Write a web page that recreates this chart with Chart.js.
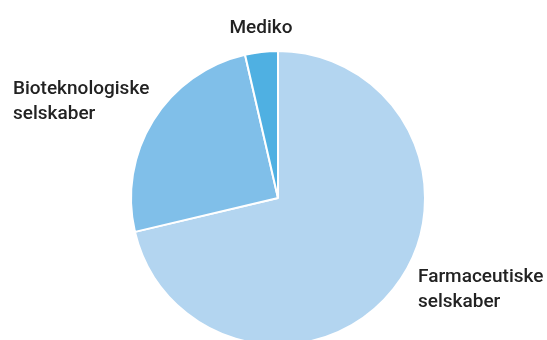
<!DOCTYPE html>
<html lang="da">
<head>
  <meta charset="UTF-8">
  <title>Selskaber</title>
  <script src="https://cdn.jsdelivr.net/npm/chart.js"></script>
  <style>
    html, body {
      margin: 0;
      padding: 0;
      background: #fff;
      overflow: hidden;
    }
    #wrap {
      width: 547px;
      height: 360px;
    }
  </style>
</head>
<body>

<div id="wrap"><canvas id="pie"></canvas></div>

<script>
  const labels = ["Farmaceutiske selskaber", "Bioteknologiske selskaber", "Mediko"];
  const shares = [71.3, 25.1, 3.6];
  const colors = ["#b3d5f0", "#80bfe9", "#4fb0e2"];

  // label text lines and the baseline of the first line
  const labelLines = [["Farmaceutiske", "selskaber"], ["Bioteknologiske", "selskaber"], ["Mediko"]];
  const labelPos = [
    { x: 418, y: 282, align: "left" },
    { x: 13, y: 94, align: "left" },
    { x: 261, y: 33, align: "center" }
  ];

  const sliceLabels = {
    id: "sliceLabels",
    afterDraw(chart) {
      const ctx = chart.ctx;
      ctx.save();
      ctx.fillStyle = "#222";
      ctx.font = "500 19px Roboto, 'Liberation Sans', sans-serif";
      ctx.textBaseline = "alphabetic";
      labelLines.forEach((lines, i) => {
        const p = labelPos[i];
        ctx.textAlign = p.align;
        lines.forEach((line, j) => ctx.fillText(line, p.x, p.y + j * 25));
      });
      ctx.restore();
    }
  };

  new Chart(document.getElementById("pie"), {
    type: "pie",
    data: {
      labels: labels,
      datasets: [{
        data: shares,
        backgroundColor: colors,
        borderColor: "#fff",
        borderWidth: 2,
        hoverOffset: 0
      }]
    },
    options: {
      responsive: true,
      maintainAspectRatio: false,
      animation: false,
      radius: 147,
      layout: { padding: { top: 51, bottom: 15, left: 9, right: 0 } },
      plugins: {
        legend: { display: false },
        tooltip: { enabled: false }
      }
    },
    plugins: [sliceLabels]
  });
</script>

</body>
</html>
